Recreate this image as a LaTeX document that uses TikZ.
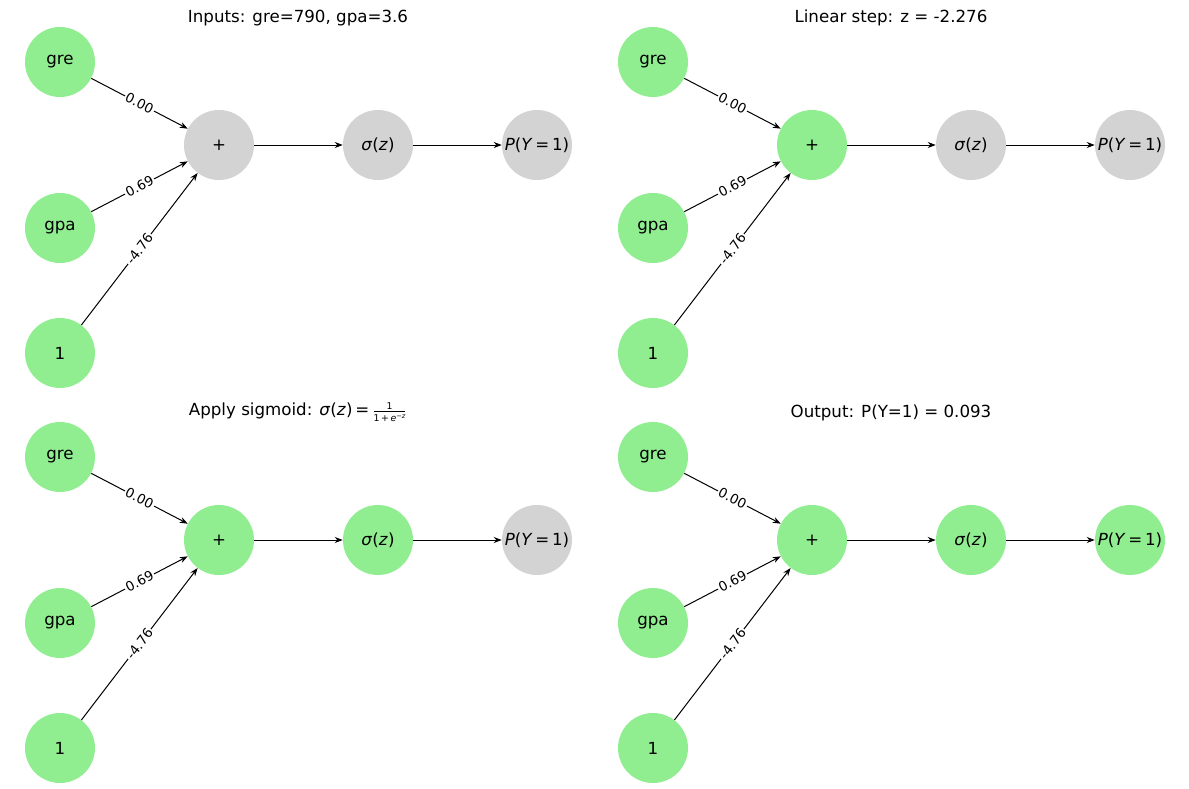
\documentclass[tikz,border=0pt]{standalone}
\usepackage{fontspec}
\setmainfont{DejaVu Sans}
\usetikzlibrary{arrows.meta}
\definecolor{lg}{HTML}{90EE90}
\definecolor{gy}{HTML}{D3D3D3}
\newcommand{\sz}{\textit{σ}(\textit{z})}
\newcommand{\py}{\textit{P}(\textit{Y}\,=\,1)}
\tikzset{
  nd/.style={circle,minimum size=52.5pt,inner sep=0pt,font=\fontsize{12.5}{14}\selectfont},
  ed/.style={-{Stealth[length=6pt,width=4.5pt]},black,line width=0.75pt},
  wl/.style={fill=white,draw=none,inner sep=1pt,font=\fontsize{10}{12}\selectfont},
  tt/.style={font=\fontsize{12.5}{14}\selectfont}
}
\newcommand{\mypanel}[6]{%
 \begin{scope}[shift={(#1,#2)}]
 \node[nd,fill=lg] (#6gre) at (60,62) {gre};
 \node[nd,fill=lg] (#6gpa) at (60,228) {gpa};
 \node[nd,fill=lg] (#6one) at (60,353) {1};
 \node[nd,fill=#3] (#6plus) at (219,145) {+};
 \node[nd,fill=#4] (#6sig) at (378,145) {\sz};
 \node[nd,fill=#5] (#6p) at (537,145) {\py};
 \draw[ed] (#6gre) -- (#6plus);
 \draw[ed] (#6gpa) -- (#6plus);
 \draw[ed] (#6one) -- (#6plus);
 \draw[ed] (#6plus) -- (#6sig);
 \draw[ed] (#6sig) -- (#6p);
 \node[wl,rotate=-27.6] (#6l1) at (139.5,103.5) {0.00};
 \node[wl,rotate=27.6] (#6l2) at (139.5,186.5) {0.69};
 \node[wl,rotate=52.6] (#6l3) at (139.5,249) {-4.76};
 \end{scope}}
\begin{document}
\begin{tikzpicture}[x=0.75pt,y=-0.75pt]
\useasboundingbox[fill=white] (0,0) rectangle (1189,789);
\mypanel{0}{0}{gy}{gy}{gy}{a}
\mypanel{593}{0}{lg}{gy}{gy}{b}
\mypanel{0}{395}{lg}{lg}{gy}{c}
\mypanel{593}{395}{lg}{lg}{lg}{d}
\node[tt] (t1) at (298,18) {Inputs: gre=790, gpa=3.6};
\node[tt] (t2) at (891,18) {Linear step: z = -2.276};
\node[tt] (t3) at (298,412) {Apply sigmoid: \sz\,=\,$\frac{\mbox{\fontsize{7}{8}\selectfont 1}}{\mbox{\fontsize{7}{8}\selectfont 1\,+\,\textit{e}\raisebox{2pt}{\fontsize{5}{6}\selectfont −\textit{z}}}}$};
\node[tt] (t4) at (891,413) {Output: P(Y=1) = 0.093};
\end{tikzpicture}
\end{document}
